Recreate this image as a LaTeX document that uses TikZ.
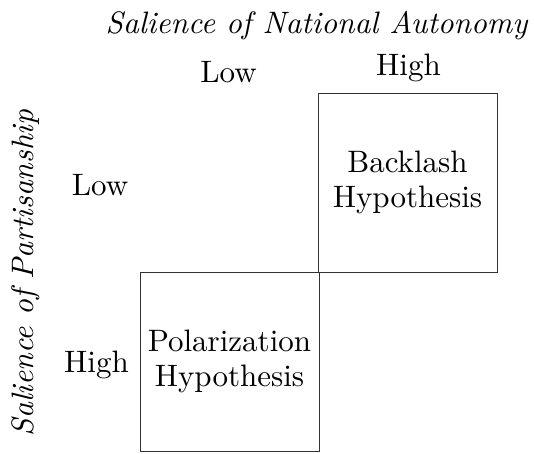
\documentclass[tikz,border=0pt]{standalone}
\usepackage{fontspec}
\setmainfont{lmroman10-regular.otf}[ItalicFont=lmroman10-italic.otf]
\begin{document}
\begin{tikzpicture}[x=1pt,y=-1pt,
  cell/.style={draw=black!80,line width=1pt,minimum width=179pt,minimum height=179pt,inner sep=0pt,align=center,font=\fontsize{31}{34.5}\selectfont},
  lab/.style={inner sep=0pt,anchor=base,font=\fontsize{31}{35}\selectfont},
  axis/.style={inner sep=0pt,anchor=base,font=\fontsize{31}{35}\selectfont\itshape}]
\useasboundingbox (0,0) rectangle (534,453);
\node[cell] (back) at (407.5,182.5) {Backlash\\Hypothesis};
\node[cell] (pol) at (229.5,361.5) {Polarization\\Hypothesis};
\node[axis] (xaxis) at (316.5,33) {Salience of National Autonomy};
\node[axis,rotate=90] (yaxis) at (33,273) {Salience of Partisanship};
\node[lab] (xlow) at (228.5,82) {Low};
\node[lab] (xhigh) at (408.5,75) {High};
\node[lab] (ylow) at (100,195) {Low};
\node[lab] (yhigh) at (96.5,372) {High};
\end{tikzpicture}
\end{document}
